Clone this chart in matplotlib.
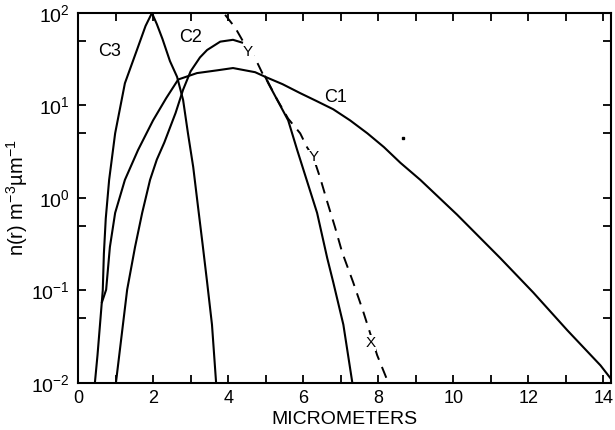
import numpy as np
import matplotlib
matplotlib.use("Agg")
import matplotlib.pyplot as plt
from matplotlib.ticker import LogLocator, NullFormatter, MultipleLocator

plt.rcParams['font.family'] = ['Liberation Sans', 'DejaVu Sans']
plt.rcParams['mathtext.fontset'] = 'custom'
plt.rcParams['mathtext.rm'] = 'Liberation Sans'
plt.rcParams['mathtext.it'] = 'Liberation Sans:italic'

# C3 - small drops
c3_r = [0.45, 0.52, 0.60, 0.66, 0.69, 0.74, 0.83, 0.99, 1.25, 1.57, 1.80, 1.97, 2.10, 2.25,
        2.45, 2.64, 2.80, 2.93, 3.07, 3.20, 3.32, 3.44, 3.57, 3.68]
c3_n = [0.01, 0.02, 0.05, 0.10, 0.25, 0.60, 1.57, 5.0, 17.4, 39.8, 72.4, 100, 75.9, 52.5,
        30.2, 20.4, 11.5, 5.0, 2.16, 0.79, 0.316, 0.123, 0.0427, 0.01]

# C1 - broad distribution
c1_r = [0.64, 0.75, 0.85, 0.99, 1.25, 1.60, 2.00, 2.35, 2.67, 3.17, 3.71, 4.13, 4.72,
        4.99, 5.45, 5.92, 6.35, 6.80, 7.25, 7.71, 8.15, 8.59, 9.12, 10.10, 11.25, 12.13,
        13.04, 13.92, 14.19]
c1_n = [0.075, 0.102, 0.295, 0.69, 1.57, 3.3, 6.9, 12.0, 19.1, 22.4, 24.0, 25.4, 22.9,
        20.4, 17.0, 13.6, 11.2, 9.1, 6.9, 5.0, 3.55, 2.4, 1.57, 0.66, 0.224, 0.095,
        0.037, 0.0155, 0.0112]

# C2 - rising part, then falling part after the crossing with C1
c2_r = [1.01, 1.31, 1.52, 1.71, 1.92, 2.10, 2.30, 2.60, 2.80, 3.00, 3.25, 3.44, 3.79, 4.13,
        4.37, np.nan, 4.99, 5.07, 5.60, 5.84, 6.37, 6.64, 6.80, 7.07, 7.31]
c2_n = [0.01, 0.102, 0.295, 0.69, 1.57, 2.6, 3.98, 8.3, 14.8, 23.4, 33.1, 39.8, 49.0, 51.3,
        47.9, np.nan, 20.4, 17.4, 6.9, 3.3, 0.69, 0.224, 0.123, 0.0427, 0.01]

# dashed curve (X-Y)
xy_r = [3.92, 4.19, 4.50, 4.72, 4.91, 4.99, 5.30, 5.60, 5.92, 6.10, 6.27, 6.45, 6.64,
        6.85, 7.04, 7.33, 7.60, 7.97, 8.27]
xy_n = [95.5, 69.2, 41.7, 32.4, 22.4, 20.4, 11.7, 7.2, 5.0, 3.55, 2.75, 1.66, 0.91,
        0.48, 0.257, 0.123, 0.059, 0.020, 0.01]

# curve labels and point markers: (text, r, n)
curve_labels = [("C3", 0.85, 38), ("C2", 2.99, 54), ("C1", 6.85, 12.3)]
point_labels = [("Y", 4.53, 38), ("Y", 6.27, 2.75), ("X", 7.79, 0.027)]
stray_dot = (8.67, 4.47)

fig = plt.figure(figsize=(6.15, 4.3), dpi=100)
ax = fig.add_axes([0.1268, 0.1093, 0.8667, 0.8605])

lw = 1.5
ax.plot(c3_r, c3_n, color='black', lw=lw)
ax.plot(c1_r, c1_n, color='black', lw=lw)
ax.plot(c2_r, c2_n, color='black', lw=lw)
ax.plot(xy_r, xy_n, color='black', lw=1.4, dashes=(6, 4))
ax.plot([stray_dot[0]], [stray_dot[1]], marker='s', ms=2, color='black')

for txt, r, n in curve_labels:
    ax.text(r, n, txt, fontsize=13, ha='center', va='center')
for txt, r, n in point_labels:
    ax.text(r, n, txt, fontsize=11, ha='center', va='center',
            bbox=dict(facecolor='white', edgecolor='none', pad=0.5))

ax.set_yscale('log')
ax.set_xlim(0, 14.2)
ax.set_ylim(0.01, 100)

ax.xaxis.set_major_locator(MultipleLocator(2))
ax.xaxis.set_minor_locator(MultipleLocator(1))
ax.yaxis.set_major_locator(LogLocator(base=10, numticks=10))
ax.yaxis.set_minor_locator(LogLocator(base=10, subs=[5.0], numticks=10))
ax.yaxis.set_minor_formatter(NullFormatter())

ax.tick_params(which='both', direction='in', top=True, right=True,
               length=5.5, width=1.3)
ax.tick_params(axis='x', pad=5, labelsize=13)
ax.tick_params(axis='y', pad=6, labelsize=14)
for s in ax.spines.values():
    s.set_linewidth(1.5)

ax.set_xlabel("MICROMETERS", fontsize=14, labelpad=3)
ax.set_ylabel("n(r) m$^{-3}$µm$^{-1}$", fontsize=14.5, labelpad=1)

fig.savefig("out.png", dpi=100)
